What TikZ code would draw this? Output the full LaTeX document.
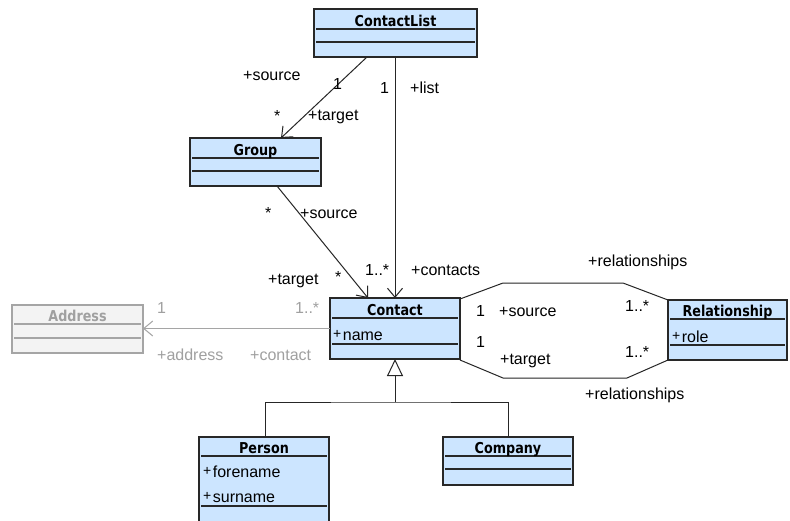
\documentclass[tikz,border=0pt]{standalone}
\usepackage{fontspec}
\setmainfont{Liberation Sans}
\newfontfamily\clsfont[FakeStretch=0.85]{DejaVu Sans}
\usetikzlibrary{arrows.meta}
\definecolor{clsfill}{RGB}{204,229,255}
\definecolor{clsline}{RGB}{40,40,40}
\definecolor{grayfill}{RGB}{243,243,243}
\definecolor{grayline}{RGB}{165,165,165}
\definecolor{graytext}{RGB}{160,160,160}
\newcommand{\attrtext}[1]{\raisebox{2pt}{\fontsize{14}{14}\selectfont+}\kern1.5pt#1}
\newcommand{\myclass}[9]{%
  \node[box#9, minimum width=#4pt, minimum height=#5pt] (#1) at (#2,#3) {};
  \draw[sep#9] ([xshift=2pt,yshift=-#6pt]#1.north west) -- ([xshift=-2pt,yshift=-#6pt]#1.north east);
  \draw[sep#9] ([xshift=2pt,yshift=-#7pt]#1.north west) -- ([xshift=-2pt,yshift=-#7pt]#1.north east);
  \node[ttl#9] at ([yshift=-#6pt+2.5pt]#1.north) {#8};
}
\begin{document}
\begin{tikzpicture}[x=1pt,y=-1pt,
  box/.style={draw=clsline, fill=clsfill, line width=1.2pt, anchor=north west, inner sep=0pt, outer sep=0pt},
  boxg/.style={draw=grayline, fill=grayfill, line width=1.2pt, anchor=north west, inner sep=0pt, outer sep=0pt},
  sep/.style={draw=clsline, line width=1.1pt},
  sepg/.style={draw=grayline, line width=1.1pt},
  ttl/.style={anchor=base, inner sep=0pt, font=\clsfont\bfseries\fontsize{15}{15}\selectfont, text=black},
  ttlg/.style={anchor=base, inner sep=0pt, font=\clsfont\bfseries\fontsize{15}{15}\selectfont, text=graytext},
  lbl/.style={anchor=base west, inner sep=0pt, font=\fontsize{16}{16}\selectfont, text=black},
  lblg/.style={lbl, text=graytext},
  attr/.style={anchor=base west, inner sep=0pt, font=\fontsize{16}{16}\selectfont},
  conn/.style={draw=black!85, line width=1pt},
  assoc/.style={conn, -{Straight Barb[length=9pt,width=15pt]}},
  assocg/.style={draw=grayline, line width=1pt, -{Straight Barb[length=9pt,width=15pt]}},
]
\useasboundingbox (0,0) rectangle (790,520);
\fill[white] (0,0) rectangle (790,520);

% classes
\myclass{cl}{314}{9}{163}{48}{20}{33}{ContactList}{}
\myclass{grp}{190}{138}{131}{48}{20}{33}{Group}{}
\myclass{ct}{330}{298}{130}{61}{20}{46}{Contact}{}
\myclass{addr}{12}{305}{131}{48}{19}{33}{Address}{g}
\myclass{rel}{668}{300}{119}{60}{19}{45}{Relationship}{}
\myclass{per}{199}{437}{130}{95}{19}{69}{Person}{}
\myclass{com}{443}{437}{130}{48}{19}{32}{Company}{}

% attributes
\node[attr] (an) at (333,340) {\attrtext{name}};
\node[attr] (ar) at (672,342) {\attrtext{role}};
\node[attr] (af) at (203,477) {\attrtext{forename}};
\node[attr] (as) at (203,502) {\attrtext{surname}};

% associations
\draw[assoc] ([xshift=53pt]cl.south west) -- ([xshift=91pt]grp.north west);
\draw[assoc] ([xshift=81pt]cl.south west) -- ([xshift=65pt]ct.north west);
\draw[assoc] ([xshift=87pt]grp.south west) -- ([xshift=38pt]ct.north west);
\draw[assocg] (ct.west) -- (ct.west -| addr.east);
\draw[conn] ([yshift=-1pt]ct.north east) -- ++(43,-16) -- ++(120,0) -- (rel.north west);
\draw[conn] ([yshift=-1pt]ct.south east) -- ++(43,18) -- ++(124,0) -- (rel.south west);

% generalization
\coordinate (gj) at (395,402);
\draw[conn] ([xshift=66pt]per.north west) |- (gj) -| ([xshift=65pt]com.north west);
\draw[conn, -{Triangle[open,length=17pt,width=16pt,fill=white]}] (gj) -- (ct.south);

% labels
\node[lbl] (l1) at (243,80) {+source};
\node[lbl] (l2) at (333,89) {1};
\node[lbl] (l3) at (274,121) {*};
\node[lbl] (l4) at (308,120) {+target};
\node[lbl] (l5) at (380,93) {1};
\node[lbl] (l6) at (410,93) {+list};
\node[lbl] (l7) at (265,218) {*};
\node[lbl] (l8) at (300,218) {+source};
\node[lbl] (l9) at (268,284) {+target};
\node[lbl] (l10) at (335,282) {*};
\node[lbl] (l11) at (365,275) {1..*};
\node[lbl] (l12) at (411,275) {+contacts};
\node[lblg] (g1) at (157,313) {1};
\node[lblg] (g2) at (295,313) {1..*};
\node[lblg] (g3) at (157,360) {+address};
\node[lblg] (g4) at (250,360) {+contact};
\node[lbl] (r1) at (476,316) {1};
\node[lbl] (r2) at (499,316) {+source};
\node[lbl] (r3) at (625,311) {1..*};
\node[lbl] (r4) at (476,347) {1};
\node[lbl] (r5) at (500,364) {+target};
\node[lbl] (r6) at (625,357) {1..*};
\node[lbl] (r7) at (588,266) {+relationships};
\node[lbl] (r8) at (585,399) {+relationships};
\end{tikzpicture}
\end{document}
